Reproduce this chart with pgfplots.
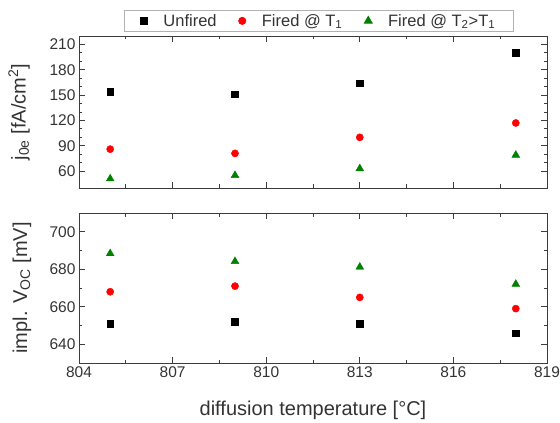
\documentclass[border=0pt]{standalone}
\usepackage{fontspec}
\setmainfont{Liberation Sans}
\usepackage{pgfplots}
\pgfplotsset{compat=1.18}
\definecolor{axgray}{HTML}{3C3C3C}
\definecolor{txt}{HTML}{333333}
\definecolor{mred}{rgb}{1,0,0}
\definecolor{mgreen}{rgb}{0,0.5,0}
\begin{document}
\begin{tikzpicture}
\useasboundingbox (-79pt,-235pt) rectangle (481pt,188pt);
\pgfplotsset{
 common/.style={
  width=468pt, scale only axis, xmin=804, xmax=819, xtick={804,807,...,819}, minor x tick num=1,
  tick align=inside, major tick length=6pt, minor tick length=3.5pt,
  axis line style={axgray, line width=0.9pt}, tick style={axgray, line width=0.8pt},
  /pgf/number format/assume math mode=true,
  ticklabel style={font=\fontsize{15.5}{18}\selectfont, text=txt},
  label style={font=\fontsize{20}{24}\selectfont, text=txt},
  only marks,
  legend image code/.code={\draw[##1] plot coordinates {(0pt,0pt)};},
 },
 s1/.style={mark=square*, mark size=3.3pt, draw=black, fill=black},
 s2/.style={mark=*, mark size=3.6pt, draw=mred, fill=mred},
 s3/.style={mark=triangle*, mark size=4.5pt, draw=mgreen, fill=mgreen},
}
\begin{axis}[common, at={(0pt,0pt)}, anchor=south west, height=152pt,
  ymin=40, ymax=220, ytick={60,90,...,210}, minor y tick num=2, xticklabels={},
  ylabel={j\textsubscript{0e} [fA/cm\textsuperscript{2}]},
  ylabel style={at={(axis description cs:-0.128,0.5)}, anchor=center},
  legend columns=3,
  legend style={at={(0.513,1)}, yshift=4pt, anchor=south, draw=gray!60, line width=0.8pt,
    font=\fontsize{16.5}{19}\selectfont, text=txt, inner xsep=16pt, inner ysep=2pt,
    /tikz/every odd column/.append style={column sep=14pt},
    /tikz/every even column/.append style={column sep=20pt}},
]
\addplot[s1] coordinates {(805,154) (809,151) (813,164) (818,200)};
\addlegendentry{Unfired}
\addplot[s2] coordinates {(805,86) (809,81) (813,100) (818,117)};
\addlegendentry{Fired @ T\textsubscript{1}}
\addplot[s3] coordinates {(805,51) (809,55) (813,63) (818,79)};
\addlegendentry{Fired @ T\textsubscript{2}>T\textsubscript{1}}
\end{axis}
\begin{axis}[common, at={(0pt,-175pt)}, anchor=south west, height=150pt,
  ymin=630, ymax=710, ytick={640,660,...,700}, minor y tick num=1,
  xlabel={diffusion temperature [°C]},
  xlabel style={at={(axis description cs:0.5,0)}, yshift=-47pt, anchor=center},
  ylabel={impl. V\textsubscript{OC} [mV]},
  ylabel style={at={(axis description cs:-0.122,0.5)}, anchor=center},
]
\addplot[s1] coordinates {(805,651) (809,652) (813,651) (818,646)};
\addplot[s2] coordinates {(805,668) (809,671) (813,665) (818,659)};
\addplot[s3] coordinates {(805,688.4) (809,684.2) (813,681.2) (818,672.1)};
\end{axis}
\end{tikzpicture}
\end{document}
